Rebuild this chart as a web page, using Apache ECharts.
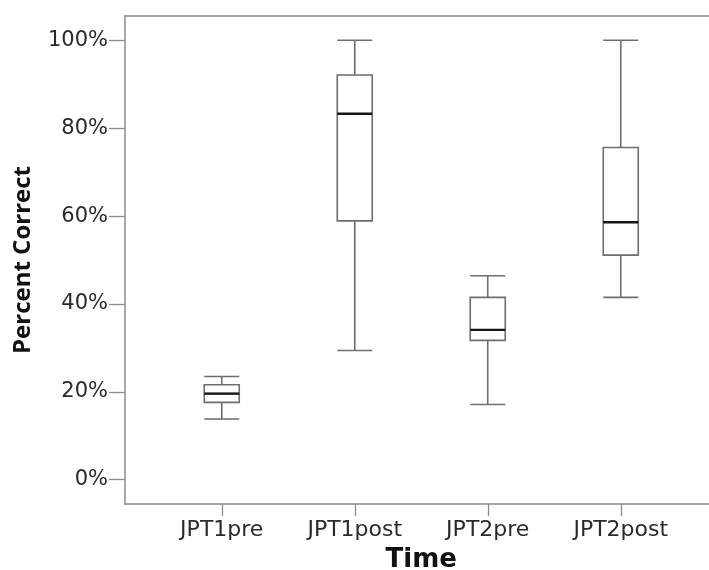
<!DOCTYPE html>
<html>
<head>
<meta charset="utf-8">
<script src="https://cdn.jsdelivr.net/npm/echarts@6/dist/echarts.min.js"></script>
<style>
html,body{margin:0;padding:0;background:#fff;}
#chart{width:709px;height:570px;}
</style>
</head>
<body>
<div id="chart"></div>
<script>
const categories = ['JPT1pre', 'JPT1post', 'JPT2pre', 'JPT2post'];
const lowWhisker = [13.8, 29.4, 17.1, 41.5];
const q1 = [17.6, 58.9, 31.7, 51.1];
const median = [19.6, 83.3, 34.1, 58.6];
const q3 = [21.6, 92.1, 41.5, 75.6];
const highWhisker = [23.5, 100, 46.4, 100];
const yTicks = [0, 20, 40, 60, 80, 100];

const boxData = categories.map((c, i) => [lowWhisker[i], q1[i], median[i], q3[i], highWhisker[i]]);
const medianData = categories.map((c, i) => [i, median[i]]);

// axis geometry: 0%..100% spans 439.4 px; frame extends 24.3 px beyond each end
const pxPerUnit = 439.4 / 100;
const yMinVal = -24.3 / pxPerUnit;
const yMaxVal = 100 + 24.3 / pxPerUnit;

const chart = echarts.init(document.getElementById('chart'), null, {renderer: 'canvas'});
const frameColor = '#8c8c8c';
const textColor = '#2a2a2a';
const noBounds = {containLabel: false, outerBoundsMode: 'none', show: false};

chart.setOption({
  animation: false,
  backgroundColor: '#fff',
  grid: [
    Object.assign({left: 155.25, top: 16, width: 532, height: 488}, noBounds),   // data
    Object.assign({left: 125, top: 16, width: 584, height: 488}, noBounds),      // frame
    Object.assign({left: 125, top: 40.3, width: 560, height: 439.4}, noBounds)   // y labels
  ],
  xAxis: [
    {
      gridIndex: 0,
      type: 'category',
      data: categories,
      boundaryGap: true,
      position: 'bottom',
      axisLine: {show: false, onZero: false},
      axisTick: {show: true, alignWithLabel: true, length: 12, lineStyle: {color: frameColor, width: 1.3}},
      axisLabel: {margin: 15, color: textColor, fontFamily: 'DejaVu Sans', fontSize: 22},
      splitLine: {show: false},
      name: 'Time',
      nameLocation: 'middle',
      nameGap: 43,
      nameTextStyle: {fontFamily: 'DejaVu Sans', fontWeight: 'bold', fontSize: 26, color: '#111'}
    },
    { // frame bottom
      gridIndex: 1, type: 'value', min: 0, max: 1, position: 'bottom',
      axisLine: {show: true, onZero: false, lineStyle: {color: frameColor, width: 1.5}},
      axisTick: {show: false}, axisLabel: {show: false}, splitLine: {show: false}
    },
    { // frame top
      gridIndex: 1, type: 'value', min: 0, max: 1, position: 'top',
      axisLine: {show: true, onZero: false, lineStyle: {color: frameColor, width: 1.5}},
      axisTick: {show: false}, axisLabel: {show: false}, splitLine: {show: false}
    },
    {
      gridIndex: 2, type: 'value', min: 0, max: 1, show: false
    }
  ],
  yAxis: [
    {
      gridIndex: 0, type: 'value', min: yMinVal, max: yMaxVal, show: false
    },
    { // frame left
      gridIndex: 1, type: 'value', min: 0, max: 1, position: 'left',
      axisLine: {show: true, onZero: false, lineStyle: {color: frameColor, width: 1.5}},
      axisTick: {show: false}, axisLabel: {show: false}, splitLine: {show: false},
      name: 'Percent Correct',
      nameLocation: 'middle',
      nameRotate: 90,
      nameGap: 90,
      nameTextStyle: {fontFamily: 'Open Sans', fontWeight: 'bold', fontSize: 24, color: '#111'}
    },
    { // tick labels
      gridIndex: 2,
      type: 'value',
      min: 0, max: 100, interval: 20,
      axisLine: {show: false, onZero: false},
      axisTick: {show: true, length: 16, lineStyle: {color: frameColor, width: 1.3}},
      axisLabel: {
        margin: 17, color: textColor, fontFamily: 'DejaVu Sans', fontSize: 21,
        formatter: v => (yTicks.indexOf(v) >= 0 ? v + '%' : '')
      },
      splitLine: {show: false}
    }
  ],
  series: [
    {
      type: 'boxplot',
      xAxisIndex: 0, yAxisIndex: 0,
      data: boxData,
      boxWidth: [35, 35],
      itemStyle: {color: '#fff', borderColor: '#6e6e6e', borderWidth: 1.6},
      emphasis: {disabled: true}
    },
    {
      type: 'custom',
      xAxisIndex: 0, yAxisIndex: 0,
      data: medianData,
      z: 5,
      renderItem: function (params, api) {
        const p = api.coord([api.value(0), api.value(1)]);
        const half = 17.5;
        return {
          type: 'line',
          shape: {x1: p[0] - half, y1: p[1], x2: p[0] + half, y2: p[1]},
          style: {stroke: '#151515', lineWidth: 2.4}
        };
      }
    }
  ]
});
</script>
</body>
</html>
